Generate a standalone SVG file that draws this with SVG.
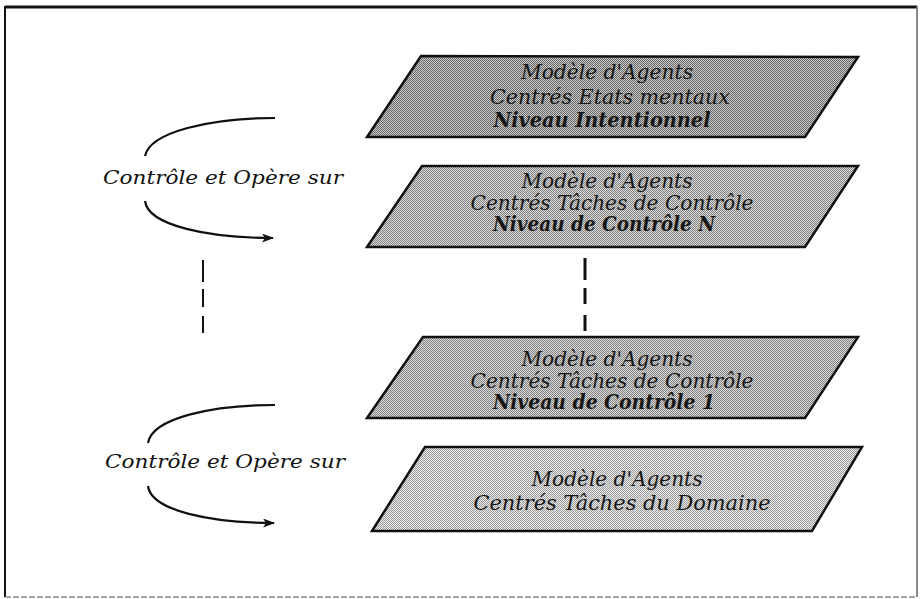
<svg xmlns="http://www.w3.org/2000/svg" width="921" height="599" viewBox="0 0 921 599">
<style>
.para{stroke:#111;stroke-width:2.5;stroke-linejoin:miter}
.t{font-family:"DejaVu Serif","Liberation Serif",serif;font-style:italic;font-size:19.5px;fill:#161616;text-anchor:middle}
.b{font-weight:bold}
.lbl{font-family:"DejaVu Serif","Liberation Serif",serif;font-style:italic;font-size:19px;fill:#111}
.arc{fill:none;stroke:#111;stroke-width:2.2}
.dash{stroke:#111;fill:none}
</style>
<defs>
<pattern id="p1" width="2" height="2" patternUnits="userSpaceOnUse"><rect width="2" height="2" fill="#cdcdcd"/><rect width="1" height="1" fill="#646464"/><rect x="1" y="1" width="1" height="1" fill="#646464"/></pattern>
<pattern id="p2" width="2" height="2" patternUnits="userSpaceOnUse"><rect width="2" height="2" fill="#dcdcdc"/><rect width="1" height="1" fill="#808080"/><rect x="1" y="1" width="1" height="1" fill="#808080"/></pattern>
<pattern id="p3" width="2" height="2" patternUnits="userSpaceOnUse"><rect width="2" height="2" fill="#eeeeee"/><rect width="1" height="1" fill="#999"/><rect x="1" y="1" width="1" height="1" fill="#999"/></pattern>
<marker id="ah" markerWidth="12" markerHeight="9" refX="11" refY="4.5" orient="auto" markerUnits="userSpaceOnUse"><path d="M0,0 L12,4.5 L0,9 L3,4.5 Z" fill="#111"/></marker>
</defs>
<rect width="921" height="599" fill="#fff"/>
<g id="frame">
<line x1="5" y1="7" x2="917" y2="7" stroke="#111" stroke-width="3"/>
<line x1="5" y1="6" x2="5" y2="597" stroke="#111" stroke-width="2"/>
<line x1="917" y1="6" x2="917" y2="597" stroke="#666" stroke-width="1.5"/>
<line x1="5" y1="597" x2="917" y2="597" stroke="#888" stroke-width="1.5" stroke-dasharray="6 2"/>
</g>
<g id="n1">
<polygon class="para" points="421,56 858,57 805,137 367,137" fill="url(#p1)"/>
<text class="t" x="607" y="79" textLength="172" lengthAdjust="spacingAndGlyphs">Modèle d'Agents</text>
<text class="t" x="610" y="104" textLength="240" lengthAdjust="spacingAndGlyphs">Centrés Etats mentaux</text>
<text class="t b" x="602" y="127" textLength="217" lengthAdjust="spacingAndGlyphs">Niveau Intentionnel</text>
</g>
<g id="n2">
<polygon class="para" points="422,166 858,166 805,247 367,247" fill="url(#p2)"/>
<text class="t" x="607" y="188" textLength="171" lengthAdjust="spacingAndGlyphs">Modèle d'Agents</text>
<text class="t" x="612" y="210" textLength="283" lengthAdjust="spacingAndGlyphs">Centrés Tâches de Contrôle</text>
<text class="t b" x="604" y="231" textLength="222" lengthAdjust="spacingAndGlyphs">Niveau  de Contrôle N</text>
</g>
<g id="n3">
<polygon class="para" points="423,337 858,337 805,418 367,418" fill="url(#p2)"/>
<text class="t" x="607" y="366" textLength="171" lengthAdjust="spacingAndGlyphs">Modèle d'Agents</text>
<text class="t" x="612" y="388" textLength="283" lengthAdjust="spacingAndGlyphs">Centrés Tâches de Contrôle</text>
<text class="t b" x="604" y="409" textLength="222" lengthAdjust="spacingAndGlyphs">Niveau  de Contrôle 1</text>
</g>
<g id="n4">
<polygon class="para" points="425,447 862,447 812,531 372,531" fill="url(#p3)"/>
<text class="t" x="617" y="486" textLength="171" lengthAdjust="spacingAndGlyphs">Modèle d'Agents</text>
<text class="t" x="622" y="510" textLength="297" lengthAdjust="spacingAndGlyphs">Centrés Tâches du Domaine</text>
</g>
<g id="labels">
<text class="lbl" x="103" y="184" textLength="240" lengthAdjust="spacingAndGlyphs">Contrôle et Opère sur</text>
<text class="lbl" x="105" y="468" textLength="240" lengthAdjust="spacingAndGlyphs">Contrôle et Opère sur</text>
</g>
<g id="connectors">
<path class="arc" d="M275,118 C210,118 150,132 145,156"/>
<path class="arc" d="M145,201 C148,226 210,238 273,238" marker-end="url(#ah)"/>
<path class="arc" d="M275,405 C212,405 152,418 148,443"/>
<path class="arc" d="M148,486 C151,511 212,523 274,523" marker-end="url(#ah)"/>
<path class="dash" stroke-width="2" d="M203,260 V282 M203,289 V307 M203,316 V333"/>
<path class="dash" stroke-width="3" d="M585,258 V280 M585,288 V304 M585,315 V331"/>
</g>
</svg>
